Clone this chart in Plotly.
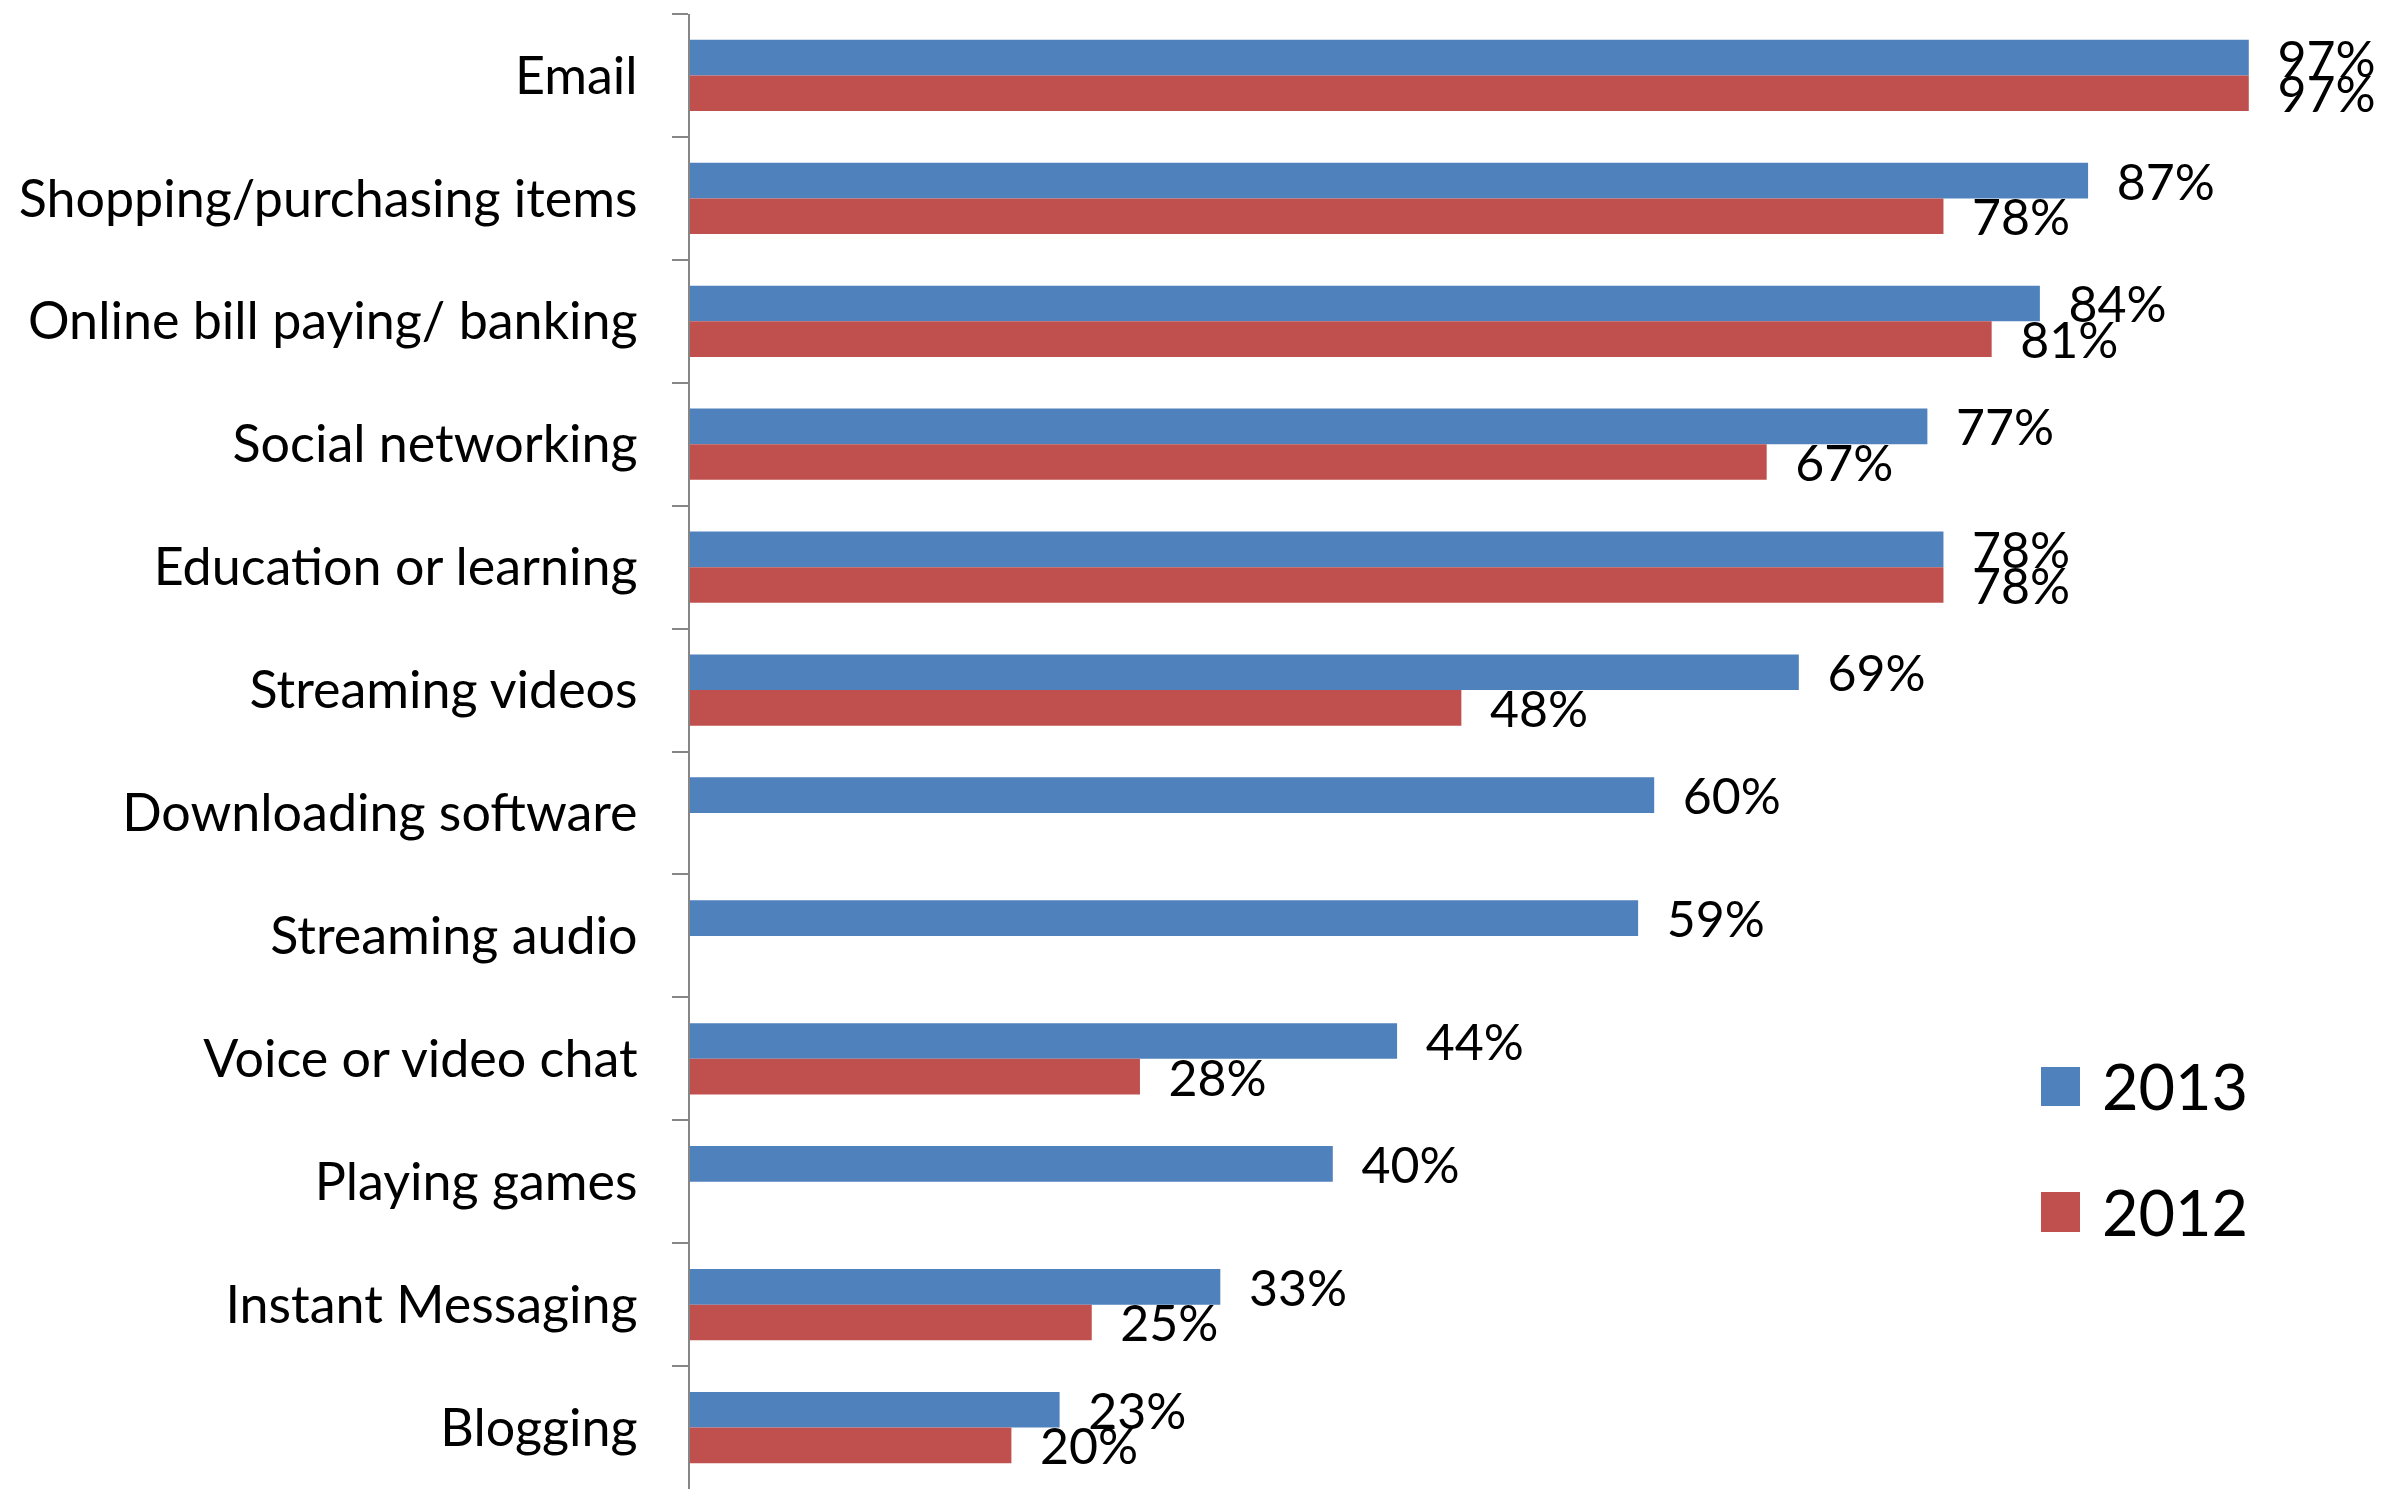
import plotly.graph_objects as go

# Survey of online activities, share of respondents (%)
categories = [
    "Email",
    "Shopping/purchasing items",
    "Online bill paying/ banking",
    "Social networking",
    "Education or learning",
    "Streaming videos",
    "Downloading software",
    "Streaming audio",
    "Voice or video chat",
    "Playing games",
    "Instant Messaging",
    "Blogging",
]
values_2013 = [97, 87, 84, 77, 78, 69, 60, 59, 44, 40, 33, 23]
values_2012 = [97, 78, 81, 67, 78, 48, None, None, 28, None, 25, 20]
series_names = ["2013", "2012"]

BLUE = "#4F81BD"
RED = "#C0504D"
FONT = "Lato"

W, H = 2397, 1489
ML, MR, MT, MB = 690, 100, 14, 0

fig = go.Figure()
for name, vals, color in [(series_names[0], values_2013, BLUE),
                          (series_names[1], values_2012, RED)]:
    fig.add_trace(go.Bar(
        y=categories,
        x=vals,
        name=name,
        orientation="h",
        marker=dict(color=color, line=dict(width=0)),
        texttemplate="\u00a0\u00a0%{x}%",
        textposition="outside",
        textfont=dict(family=FONT, size=50, color="black"),
        constraintext="none",
        cliponaxis=False,
        showlegend=False,
    ))

fig.update_layout(
    width=W,
    height=H,
    margin=dict(l=ML, r=MR, t=MT, b=MB, pad=0),
    paper_bgcolor="white",
    plot_bgcolor="white",
    barmode="group",
    bargap=0.42,
    bargroupgap=0,
    showlegend=False,
    font=dict(family=FONT, color="black"),
    xaxis=dict(
        range=[0, 100],
        visible=False,
        fixedrange=True,
    ),
    yaxis=dict(
        type="category",
        autorange="reversed",
        showline=True,
        linecolor="#868686",
        linewidth=2,
        ticks="outside",
        tickson="boundaries",
        ticklen=16,
        tickwidth=2,
        tickcolor="#868686",
        ticklabelstandoff=40,
        tickfont=dict(family=FONT, size=52, color="black"),
        showgrid=False,
        zeroline=False,
    ),
)

# Legend drawn as swatches + labels on the right side of the plot
plot_w = W - ML - MR
plot_h = H - MT - MB


def px_x(x):
    return (x - ML) / plot_w


def px_y(y):
    return 1 - (y - MT) / plot_h


legend_rows = [(series_names[0], BLUE, 1067, 1106, 1085),
               (series_names[1], RED, 1192, 1232, 1211)]
for label, color, y0, y1, yc in legend_rows:
    fig.add_shape(
        type="rect", xref="paper", yref="paper",
        x0=px_x(2041), x1=px_x(2080), y0=px_y(y1), y1=px_y(y0),
        fillcolor=color, line=dict(width=0),
    )
    fig.add_annotation(
        xref="paper", yref="paper",
        x=px_x(2100), y=px_y(yc),
        xanchor="left", yanchor="middle",
        text=label, showarrow=False,
        font=dict(family=FONT, size=63, color="black"),
    )

fig.write_html("out.html")
